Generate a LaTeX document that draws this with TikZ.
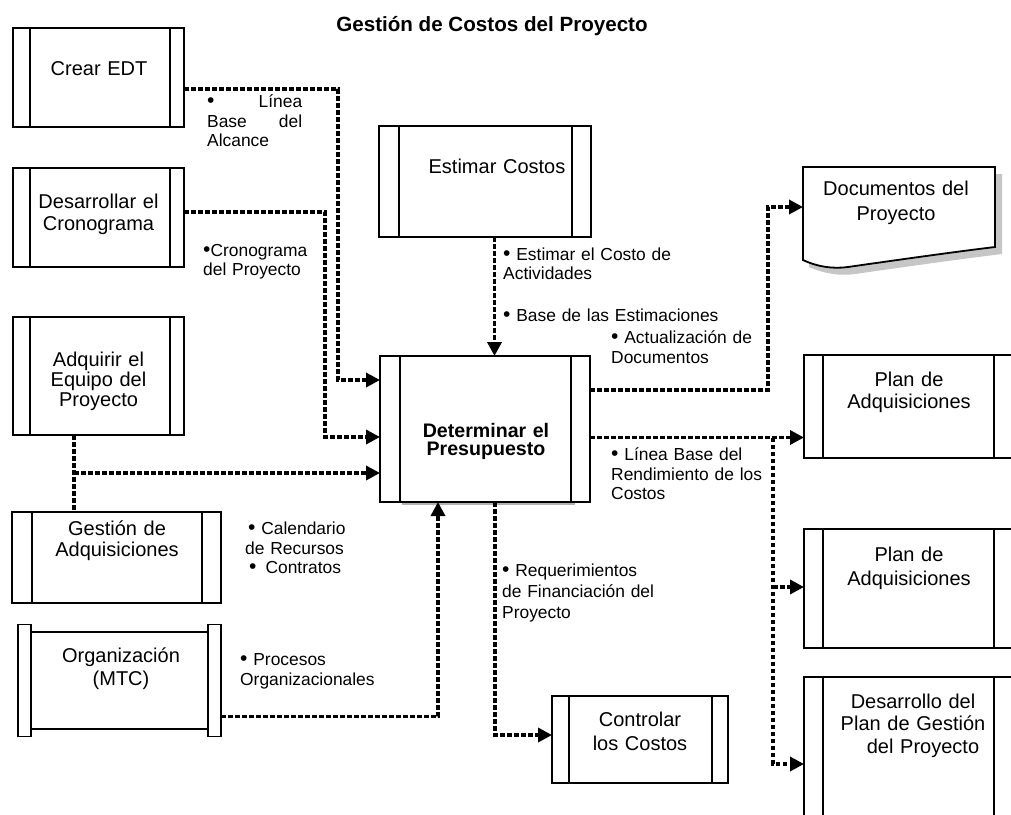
\documentclass[tikz,border=0pt]{standalone}
\usepackage{fontspec}
\setmainfont{Liberation Sans}
\usetikzlibrary{arrows.meta,calc}

% a slightly larger bullet for the connector labels
\newcommand\blt{{\fontsize{21}{20}\selectfont •}}

\tikzset{
  dl/.store in=\dl, dr/.store in=\dr,
  procbox/.style={draw, line width=1.8pt, fill=white, inner sep=0pt, outer sep=0pt,
    dl=19pt, dr=19pt,
    path picture={
      \draw[line width=1.5pt] ([xshift=\dl]path picture bounding box.south west)
        -- ([xshift=\dl]path picture bounding box.north west);
      \draw[line width=1.5pt] ([xshift=-\dr]path picture bounding box.south east)
        -- ([xshift=-\dr]path picture bounding box.north east);
    }},
  plainbox/.style={draw, line width=1.8pt, fill=white, inner sep=0pt, outer sep=0pt},
  rail/.style={plainbox, minimum width=13pt, minimum height=112pt},
  btxt/.style={font=\fontsize{20}{22.5}\selectfont, align=center, text width=220pt,
    anchor=base, inner sep=0pt},
  lbl/.style={font=\fontsize{17.4}{20}\selectfont, align=left, text width=220pt,
    anchor=base west, inner sep=0pt},
  link/.style={line width=3.4pt, dash pattern=on 4.6pt off 2.4pt},
  flow/.style={link, -{Triangle[length=14pt,width=14pt]}}
}

\begin{document}
\begin{tikzpicture}[x=1pt, y=-1pt]
  \fill[white] (0,0) rectangle (1011,814);
  \clip (0,0) rectangle (1011,814);

  % title
  \node[anchor=base, inner sep=0pt, font=\bfseries\fontsize{20.6}{24}\selectfont] (title)
    at (492,31.5) {Gestión de Costos del Proyecto};

  % process boxes
  \node[procbox, dl=17pt, dr=14pt, minimum width=171pt, minimum height=99pt] (crear) at (98.5,77.5) {};
  \node[procbox, dl=17pt, dr=14pt, minimum width=171pt, minimum height=99pt] (desarr) at (98.5,217.5) {};
  \node[procbox, dl=17pt, dr=14pt, minimum width=171pt, minimum height=118pt] (adq) at (98.5,376) {};
  \node[procbox, dl=20pt, dr=19pt, minimum width=209pt, minimum height=91pt] (gest) at (116.5,557.5) {};
  \node[plainbox, minimum width=177pt, minimum height=97pt] (org) at (119.5,680.5) {};
  \node[rail, anchor=east] (orgL) at (org.west) {};
  \node[rail, anchor=west] (orgR) at (org.east) {};
  \node[procbox, dl=20pt, dr=19pt, minimum width=212pt, minimum height=111pt] (estim) at (485,181.5) {};
  \draw[gray!60, line width=1.5pt] (402,504) -- (575,504);
  \node[procbox, dl=20pt, dr=19pt, minimum width=210pt, minimum height=146pt] (presu) at (485,429) {};
  \node[procbox, dl=17pt, dr=16pt, minimum width=176pt, minimum height=87pt] (ctrl) at (640,739.5) {};
  \node[procbox, dl=19pt, dr=22pt, minimum width=212pt, minimum height=103pt] (plan1) at (910,406.5) {};
  \node[procbox, dl=19pt, dr=22pt, minimum width=212pt, minimum height=119pt] (plan2) at (910,588.5) {};
  \node[procbox, dl=19pt, dr=22pt, minimum width=212pt, minimum height=163pt] (desplan) at (910,758.5) {};

  % document shape with its shadow
  \node[inner sep=0pt, outer sep=0pt, minimum width=192pt, minimum height=93pt] (docs) at (899,213.5) {};
  \begin{scope}[shift={(docs.north west)}]
    \fill[gray!45] (6,7) -- (199,7) -- (199,87)
      .. controls (157,92) and (87,102) .. (52,107)
      .. controls (37,109) and (22,107) .. (6,100) -- cycle;
    \draw[fill=white, line width=1.8pt] (0,0) -- (192,0) -- (192,80)
      .. controls (150,85) and (80,95) .. (45,100)
      .. controls (30,102) and (15,100) .. (0,93) -- cycle;
  \end{scope}

  % box texts
  \node[btxt] (t-crear) at (99,75) {Crear EDT};
  \node[btxt] (t-desarr) at (98.5,208) {Desarrollar el\\Cronograma};
  \node[btxt, font=\fontsize{20}{20}\selectfont] (t-adq) at (98.5,366) {Adquirir el\\Equipo del\\Proyecto};
  \node[btxt, font=\fontsize{20}{21.7}\selectfont] (t-gest) at (117,535) {Gestión de\\Adquisiciones};
  \node[btxt, font=\fontsize{20}{23.5}\selectfont] (t-org) at (121,662) {Organización\\(MTC)};
  \node[btxt] (t-estim) at (497,173) {Estimar Costos};
  \node[btxt, font=\bfseries\fontsize{19.6}{18}\selectfont] (t-presu) at (486,437) {Determinar el\\Presupuesto};
  \node[btxt, font=\fontsize{20}{25}\selectfont] (t-docs) at (896,195) {Documentos del\\Proyecto};
  \node[btxt] (t-plan1) at (909,386) {Plan de\\Adquisiciones};
  \node[btxt, font=\fontsize{20}{24}\selectfont] (t-plan2) at (909,561) {Plan de\\Adquisiciones};
  \node[btxt] (t-desplan) at (913,708) {Desarrollo del\\Plan de Gestión\\\hspace*{20pt}del Proyecto};
  \node[btxt, font=\fontsize{20}{24}\selectfont] (t-ctrl) at (640,726) {Controlar\\los Costos};

  % connectors
  \draw[flow] ([yshift=-11.5pt]crear.east) -- ++(154pt,0pt) |- ([yshift=49pt]presu.west);
  \draw[flow] ([yshift=5.5pt]desarr.east) -- ++(141pt,0pt) |- ([yshift=-8pt]presu.west);
  \coordinate (ja) at ([xshift=-24.5pt]adq.south);
  \draw[link] (ja) -- (ja |- gest.north);
  \coordinate (p3) at ([yshift=-44pt]presu.west);
  \draw[flow] (ja |- p3) -- (p3);
  \coordinate (p4) at ([xshift=-47pt]presu.south);
  \draw[flow] ([yshift=-36pt]orgR.east) -| (p4);
  \draw[flow] ([xshift=9.5pt]estim.south) -- ([xshift=9.5pt]presu.north);
  \coordinate (din) at ([yshift=6.5pt]docs.west);
  \draw[flow] ([yshift=39pt]presu.east) -- ++(178pt,0pt) |- (din);
  \coordinate (q1) at ([yshift=-31pt]plan1.west);
  \draw[flow] (presu.east |- q1) -- (q1);
  \coordinate (jb) at ([xshift=-31pt]q1);
  \coordinate (q2) at ([yshift=1.5pt]plan2.west);
  \coordinate (q3) at ([yshift=-5.5pt]desplan.west);
  \draw[flow] (jb) |- (q3);
  \draw[flow] (jb |- q2) -- (q2);
  \draw[flow] ([xshift=10pt]presu.south) |- ([yshift=4.5pt]ctrl.west);

  % connector labels
  \node[lbl, text width=95pt, font=\fontsize{17.4}{19.5}\selectfont] (l-alcance) at (207,107.5)
    {\blt\hfill Línea\\Base\hfill del\\Alcance};
  \node[lbl, font=\fontsize{17.4}{19}\selectfont] (l-crono) at (203,256.5) {\blt Cronograma\\del Proyecto};
  \node[lbl, font=\fontsize{17.4}{19}\selectfont] (l-estcosto) at (503,260.5) {\blt\ Estimar el Costo de\\Actividades};
  \node[lbl] (l-baseest) at (503,321.5) {\blt\ Base de las Estimaciones};
  \node[lbl] (l-actual) at (611,343.5) {\blt\ Actualización de\\Documentos};
  \node[lbl, font=\fontsize{17.4}{19.5}\selectfont] (l-rend) at (611,460.5) {\blt\ Línea Base del\\Rendimiento de los\\Costos};
  \node[lbl, font=\fontsize{17.4}{19.5}\selectfont] (l-calend) at (245,534.5)
    {\hspace*{3pt}\blt\ Calendario\\de Recursos\\\hspace*{4pt}\blt\hspace{9pt}Contratos};
  \node[lbl, font=\fontsize{17.4}{21}\selectfont] (l-requer) at (502,576.5) {\blt\ Requerimientos\\de Financiación del\\Proyecto};
  \node[lbl, font=\fontsize{17.4}{19.5}\selectfont] (l-proc) at (240,665.5) {\blt\ Procesos\\Organizacionales};
\end{tikzpicture}
\end{document}
